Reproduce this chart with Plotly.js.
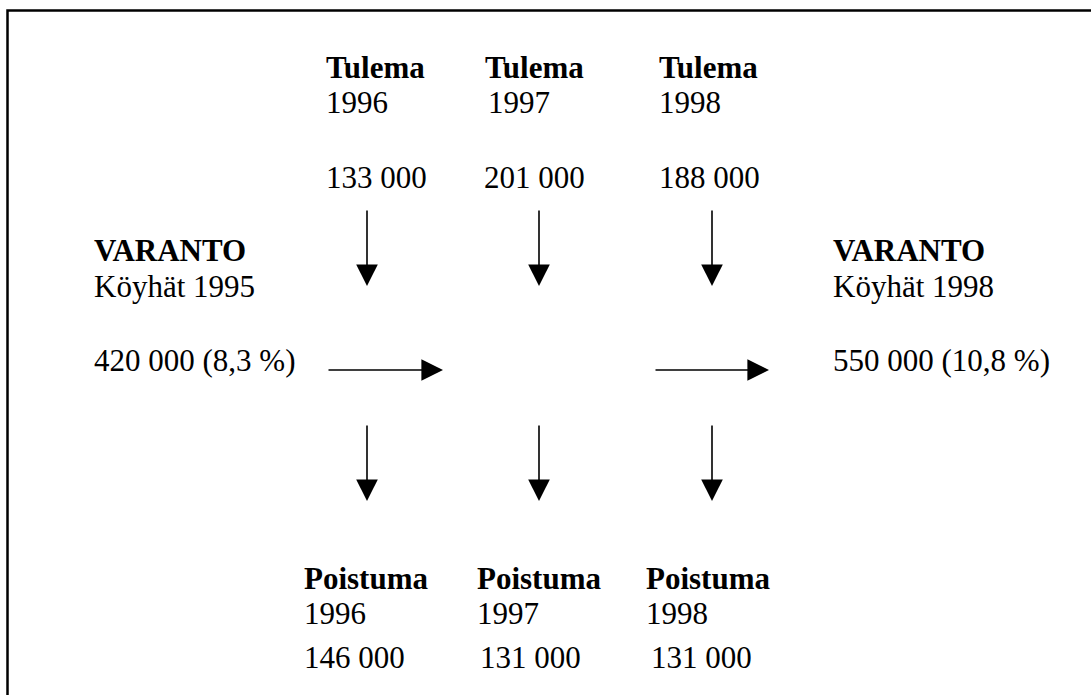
<!DOCTYPE html>
<html>
<head>
<meta charset="utf-8">
<script src="https://cdn.plot.ly/plotly-3.0.1.min.js"></script>
<style>html,body{margin:0;padding:0;background:#fff;}#chart{width:1091px;height:695px;}</style>
</head>
<body>
<div id="chart"></div>
<script>
// ---- data ----
const flowYears = ['1996', '1997', '1998'];
const inflowTitle = 'Tulema';
const outflowTitle = 'Poistuma';
const inflowValues = [133000, 201000, 188000];
const outflowValues = [146000, 131000, 131000];
const stockTitle = 'VARANTO';
const stockLabels = ['Köyhät 1995', 'Köyhät 1998'];
const stockValues = [420000, 550000];
const stockShares = [8.3, 10.8];

// ---- layout geometry (pixel space of the diagram) ----
const W = 1091, H = 695;
const topColX = [325, 484, 658];
const topYearX = [325, 487, 658];
const topValX = [325, 483, 658];
const botColX = [303, 476, 645];
const botValX = [303, 479, 650];
const arrowX = [367, 539, 712];
const rowY = {inTitle: 67, inYear: 102, inVal: 177, stTitle: 250, stLabel: 286, stVal: 360,
              outTitle: 578, outYear: 613, outVal: 657};
const downTop = [209, 286], downBot = [424, 501];
const horizY = 370;
const horizSeg = [[327, 443], [654, 769]];
const stockX = [93, 832];

function fmt(n) {
  return String(n).replace(/\B(?=(\d{3})+(?!\d))/g, ' ');
}
function fmtPct(p) {
  return p.toFixed(1).replace('.', ',') + ' %';
}

const font = {family: '"Liberation Serif", "Times New Roman", serif', size: 31, color: '#000'};
function txt(x, y, t, bold) {
  return {x: x, y: y, xref: 'x', yref: 'y', text: bold ? '<b>' + t + '</b>' : t,
          showarrow: false, xanchor: 'left', yanchor: 'middle', font: font, borderpad: 0};
}
function arrow(x0, y0, x1, y1) {
  return {x: x1, y: y1, ax: x0, ay: y0, xref: 'x', yref: 'y', axref: 'x', ayref: 'y',
          text: '', showarrow: true, arrowhead: 2, arrowsize: 2.7, arrowwidth: 1.6,
          arrowcolor: '#000', standoff: 0, startstandoff: 0};
}

const annotations = [];
flowYears.forEach((yr, i) => {
  annotations.push(txt(topColX[i], rowY.inTitle, inflowTitle, true));
  annotations.push(txt(topYearX[i], rowY.inYear, yr, false));
  annotations.push(txt(topValX[i], rowY.inVal, fmt(inflowValues[i]), false));
  annotations.push(txt(botColX[i], rowY.outTitle, outflowTitle, true));
  annotations.push(txt(botColX[i], rowY.outYear, yr, false));
  annotations.push(txt(botValX[i], rowY.outVal, fmt(outflowValues[i]), false));
  annotations.push(arrow(arrowX[i], downTop[0], arrowX[i], downTop[1]));
  annotations.push(arrow(arrowX[i], downBot[0], arrowX[i], downBot[1]));
});
stockLabels.forEach((lab, i) => {
  annotations.push(txt(stockX[i], rowY.stTitle, stockTitle, true));
  annotations.push(txt(stockX[i], rowY.stLabel, lab, false));
  annotations.push(txt(stockX[i], rowY.stVal, fmt(stockValues[i]) + ' (' + fmtPct(stockShares[i]) + ')', false));
});
horizSeg.forEach(s => annotations.push(arrow(s[0], horizY, s[1], horizY)));

const layout = {
  width: W, height: H,
  margin: {l: 0, r: 0, t: 0, b: 0},
  paper_bgcolor: '#fff', plot_bgcolor: '#fff',
  showlegend: false,
  xaxis: {range: [0, W], visible: false, fixedrange: true},
  yaxis: {range: [H, 0], visible: false, fixedrange: true},
  annotations: annotations,
  shapes: [{type: 'rect', xref: 'x', yref: 'y', x0: 7.5, y0: 10.5, x1: W + 20, y1: H + 20,
            line: {color: '#000', width: 2.5}, fillcolor: 'rgba(0,0,0,0)'}]
};

Plotly.newPlot('chart', [{x: [], y: [], type: 'scatter', hoverinfo: 'skip'}], layout,
  {staticPlot: true, displayModeBar: false});
</script>
</body>
</html>
